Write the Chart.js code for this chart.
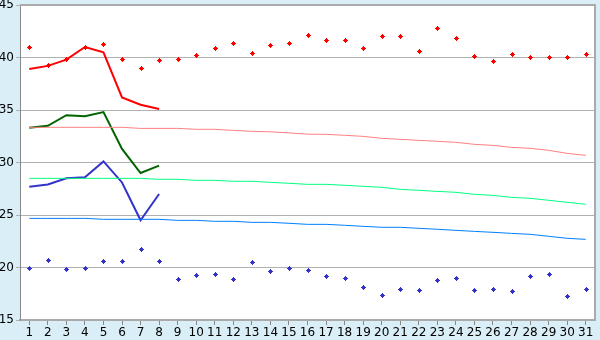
<!DOCTYPE html>
<html>
<head>
<meta charset="utf-8">
<script src="https://cdn.jsdelivr.net/npm/chart.js@4/dist/chart.umd.min.js"></script>
<style>
  html, body { margin: 0; padding: 0; background: #d9eef6; }
  #wrap { width: 600px; height: 340px; }
</style>
</head>
<body>
<div id="wrap"><canvas id="chart" width="600" height="340"></canvas></div>
<script>
const days = [];
for (let d = 1; d <= 31; d++) days.push(String(d));

const yTicks = [15, 20, 25, 30, 35, 40, 45];

// daily observed points
const maxPoints = [41.0, 39.3, 39.9, 41.0, 41.3, 39.9, 39.0, 39.8, 39.9, 40.2,
  40.9, 41.4, 40.4, 41.2, 41.4, 42.1, 41.7, 41.7, 40.9, 42.0,
  42.0, 40.6, 42.8, 41.9, 40.1, 39.7, 40.3, 40.0, 40.0, 40.0, 40.3];
const minPoints = [20.0, 20.7, 19.9, 20.0, 20.6, 20.6, 21.8, 20.6, 18.9, 19.3,
  19.4, 18.9, 20.5, 19.7, 20.0, 19.8, 19.2, 19.0, 18.1, 17.4,
  18.0, 17.9, 18.8, 19.0, 17.9, 18.0, 17.8, 19.2, 19.4, 17.3, 18.0];

// first 8 days lines
const maxLine = [38.9, 39.2, 39.8, 41.0, 40.5, 36.2, 35.5, 35.1];
const meanLine = [33.3, 33.5, 34.5, 34.4, 34.8, 31.3, 29.0, 29.7];
const minLine = [27.7, 27.9, 28.5, 28.6, 30.1, 28.1, 24.5, 27.0];

// normals
const maxNormal = [33.35, 33.35, 33.35, 33.35, 33.35, 33.35, 33.25, 33.25, 33.25, 33.16,
  33.16, 33.06, 32.97, 32.92, 32.82, 32.70, 32.68, 32.59, 32.49, 32.30,
  32.21, 32.11, 32.02, 31.92, 31.73, 31.63, 31.44, 31.35, 31.16, 30.87, 30.68];
const meanNormal = [28.49, 28.49, 28.49, 28.49, 28.49, 28.49, 28.49, 28.40, 28.40, 28.30,
  28.30, 28.21, 28.21, 28.11, 28.02, 27.92, 27.92, 27.83, 27.73, 27.64,
  27.44, 27.35, 27.25, 27.16, 26.97, 26.87, 26.68, 26.59, 26.40, 26.21, 26.02];
const minNormal = [24.68, 24.68, 24.68, 24.68, 24.59, 24.59, 24.59, 24.59, 24.49, 24.49,
  24.40, 24.40, 24.30, 24.30, 24.21, 24.11, 24.11, 24.02, 23.92, 23.83,
  23.83, 23.73, 23.64, 23.54, 23.44, 23.35, 23.25, 23.16, 22.97, 22.78, 22.68];

const frame = {
  id: "frame",
  beforeDraw(chart) {
    const { ctx, chartArea: a } = chart;
    ctx.save();
    ctx.fillStyle = "#ffffff";
    ctx.fillRect(a.left, a.top, a.right - a.left, a.bottom - a.top);
    ctx.restore();
  },
  afterDatasetsDraw(chart) {
    const { ctx, chartArea: a } = chart;
    ctx.save();
    ctx.strokeStyle = "#aaaaaa";
    ctx.lineWidth = 2;
    ctx.beginPath();
    ctx.moveTo(a.left, a.top);
    ctx.lineTo(a.right, a.top);
    ctx.lineTo(a.right, a.bottom);
    ctx.stroke();
    // crisp plus marks on the scatter datasets
    chart.data.datasets.forEach((ds, i) => {
      if (!ds.plusColor) return;
      ctx.fillStyle = ds.plusColor;
      chart.getDatasetMeta(i).data.forEach(p => {
        const x = Math.round(p.x) - 2, y = Math.round(p.y) - 2;
        ctx.fillRect(x + 2, y, 1, 5);
        ctx.fillRect(x, y + 2, 5, 1);
        ctx.fillRect(x + 1, y + 1, 3, 3);
      });
    });
    ctx.restore();
  }
};

const lineBase = { pointRadius: 0, fill: false, tension: 0 };

new Chart(document.getElementById("chart"), {
  type: "line",
  data: {
    labels: days,
    datasets: [
      { ...lineBase, data: maxNormal, borderColor: "#ff8080", borderWidth: 1 },
      { ...lineBase, data: meanNormal, borderColor: "#00ff80", borderWidth: 1 },
      { ...lineBase, data: minNormal, borderColor: "#0080ff", borderWidth: 1 },
      { ...lineBase, data: maxLine, borderColor: "#ff0000", borderWidth: 2 },
      { ...lineBase, data: meanLine, borderColor: "#006400", borderWidth: 2 },
      { ...lineBase, data: minLine, borderColor: "#3333cc", borderWidth: 2 },
      { ...lineBase, data: maxPoints, showLine: false, plusColor: "#ff0000" },
      { ...lineBase, data: minPoints, showLine: false, plusColor: "#3333cc" }
    ]
  },
  options: {
    responsive: false,
    animation: false,
    layout: { padding: { top: 5, right: 5, left: 0, bottom: 0 } },
    plugins: { legend: { display: false }, tooltip: { enabled: false } },
    scales: {
      x: {
        offset: true,
        grid: { offset: false, drawOnChartArea: false, color: "#888888", tickLength: 5 },
        border: { color: "#aaaaaa", width: 2 },
        ticks: { color: "#000000", font: { family: "DejaVu Sans", size: 12 }, padding: 1, maxRotation: 0, autoSkip: false },
        afterFit(s) { s.height = 20; s.paddingLeft = 0; s.paddingRight = 0; }
      },
      y: {
        min: 15, max: 45,
        afterBuildTicks(s) { s.ticks = yTicks.map(v => ({ value: v })); },
        grid: { color: "#b0b0b0", tickLength: 4, lineWidth: 1 },
        border: { color: "#888888", width: 1 },
        ticks: { color: "#000000", font: { family: "DejaVu Sans", size: 12 }, padding: 2 },
        afterFit(s) { s.width = 20; s.paddingTop = 0; s.paddingBottom = 0; }
      }
    }
  },
  plugins: [frame]
});
</script>
</body>
</html>
